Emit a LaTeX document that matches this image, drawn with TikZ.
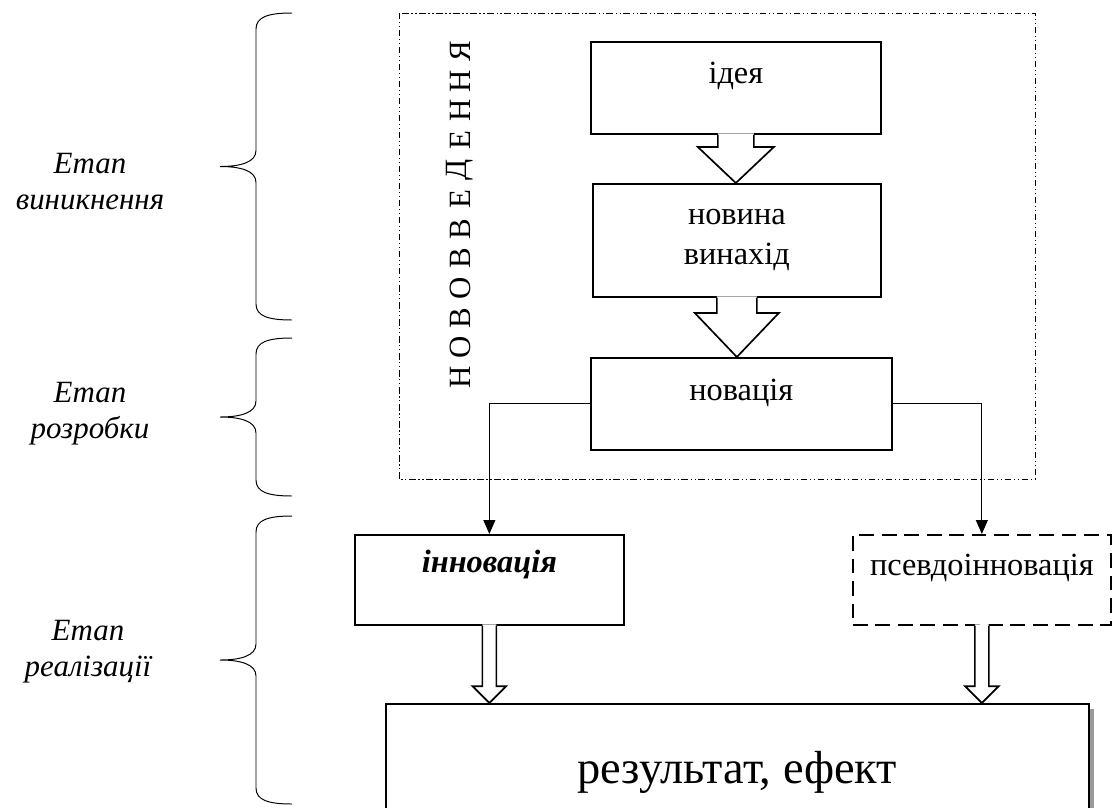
\documentclass[tikz,border=0pt]{standalone}
\usepackage{fontspec}
\setmainfont{Liberation Serif}
\usepackage{tikz}
\usetikzlibrary{calc,arrows.meta,shadows}

\tikzset{
  box/.style={draw, fill=white, line width=1.2pt, anchor=north west, inner sep=0pt, align=center,
    font=\fontsize{23}{28.5}\selectfont},
  link/.style={line width=0.7pt, -{Triangle[length=0.35cm,width=0.3cm]}},
  stage/.style={align=center, font=\fontsize{22}{25.6}\selectfont\itshape},
  letter/.style={rotate=90, inner sep=0pt, font=\fontsize{22}{25}\selectfont},
  frame/.style={line width=0.6pt, dash pattern=on 4.5pt off 2pt on 0.8pt off 2pt on 0.8pt off 2pt}
}

% hollow arrow: from, to, half shaft, half head, head length
\newcommand{\fatarrow}[5]{%
  \fill[white] let \p1=(#1), \p2=(#2) in
    (\x1-#3,\y1+0.03cm) -- (\x1-#3,\y2+#5) -- (\x1-#4,\y2+#5) -- (\x1,\y2)
    -- (\x1+#4,\y2+#5) -- (\x1+#3,\y2+#5) -- (\x1+#3,\y1+0.03cm) -- cycle;
  \draw[line width=1.2pt, line join=miter] let \p1=(#1), \p2=(#2) in
    (\x1-#3,\y1) -- (\x1-#3,\y2+#5) -- (\x1-#4,\y2+#5) -- (\x1,\y2)
    -- (\x1+#4,\y2+#5) -- (\x1+#3,\y2+#5) -- (\x1+#3,\y1);}

% curly brace of a stage: top, bottom
\newcommand{\stagebrace}[2]{%
  \draw[line width=0.7pt] (7.3,#1) .. controls (6.7,#1) and (6.4,#1-0.1) .. (6.4,#1-0.4)
    -- (6.4,{(#1+#2)/2+0.4}) .. controls (6.4,{(#1+#2)/2+0.1}) and (6.0,{(#1+#2)/2}) .. (5.5,{(#1+#2)/2})
    .. controls (6.0,{(#1+#2)/2}) and (6.4,{(#1+#2)/2-0.1}) .. (6.4,{(#1+#2)/2-0.4})
    -- (6.4,#2+0.4) .. controls (6.4,#2+0.1) and (6.7,#2) .. (7.3,#2);}

\begin{document}
\begin{tikzpicture}
\useasboundingbox (0,0) rectangle (27.8,-20.175);

% frame of the novelty
\draw[frame] (9.975,-0.325) rectangle (25.875,-11.975);
\foreach \l [count=\i] in {Н,О,В,О,В,В,Е,Д,Е,Н,Н,Я}
  \node[letter] (v\i) at (11.5,{-(377-(\i-1)*29.6)/40}) {\l};

% boxes
\node[box, minimum width=7.25cm, text height=1.05cm, text depth=1.25cm] (idea) at (14.75,-1.025) {ідея};
\node[box, minimum width=7.2cm, minimum height=2.825cm] (news) at (14.8,-4.575) {новина\\винахід};
\node[box, minimum width=7.525cm, text height=1.075cm, text depth=1.225cm] (nov) at (14.75,-8.925) {новація};
\node[box, minimum width=6.725cm, text height=0.95cm, text depth=1.3cm,
  font=\fontsize{23}{28}\selectfont\bfseries\itshape] (inno) at (8.85,-13.35) {інновація};
\node[box, dash pattern=on 10.5pt off 5.5pt, minimum width=6.45cm, text height=1.025cm,
  text depth=1.225cm] (pseudo) at (21.3,-13.35) {псевдоінновація};
\node[box, minimum width=17.575cm, text height=2.0cm, text depth=0.725cm,
  font=\fontsize{33}{38}\selectfont,
  drop shadow={shadow xshift=0.12cm, shadow yshift=-0.12cm, fill=black!40, opacity=1}]
  (res) at (9.625,-17.575) {результат, ефект};

% arrows
\fatarrow{idea.south}{news.north}{0.45cm}{0.95cm}{0.9cm}
\fatarrow{news.south}{nov.north}{0.5cm}{1.05cm}{1.1cm}
\fatarrow{inno.south}{res.north -| inno.south}{0.175cm}{0.42cm}{0.42cm}
\fatarrow{pseudo.south}{res.north -| pseudo.south}{0.175cm}{0.42cm}{0.42cm}
\draw[link] (nov.west) -| (inno.north);
\draw[link] (nov.east) -| (pseudo.north);

% stages
\stagebrace{-0.325}{-8.0}
\stagebrace{-8.45}{-12.4}
\stagebrace{-12.9}{-20.1}
\node[stage] (st1) at (2.25,-4.55) {Етап\\виникнення};
\node[stage] (st2) at (2.25,-10.35) {Етап\\розробки};
\node[stage] (st3) at (2.2,-16.3) {Етап\\реалізації};

\end{tikzpicture}
\end{document}
